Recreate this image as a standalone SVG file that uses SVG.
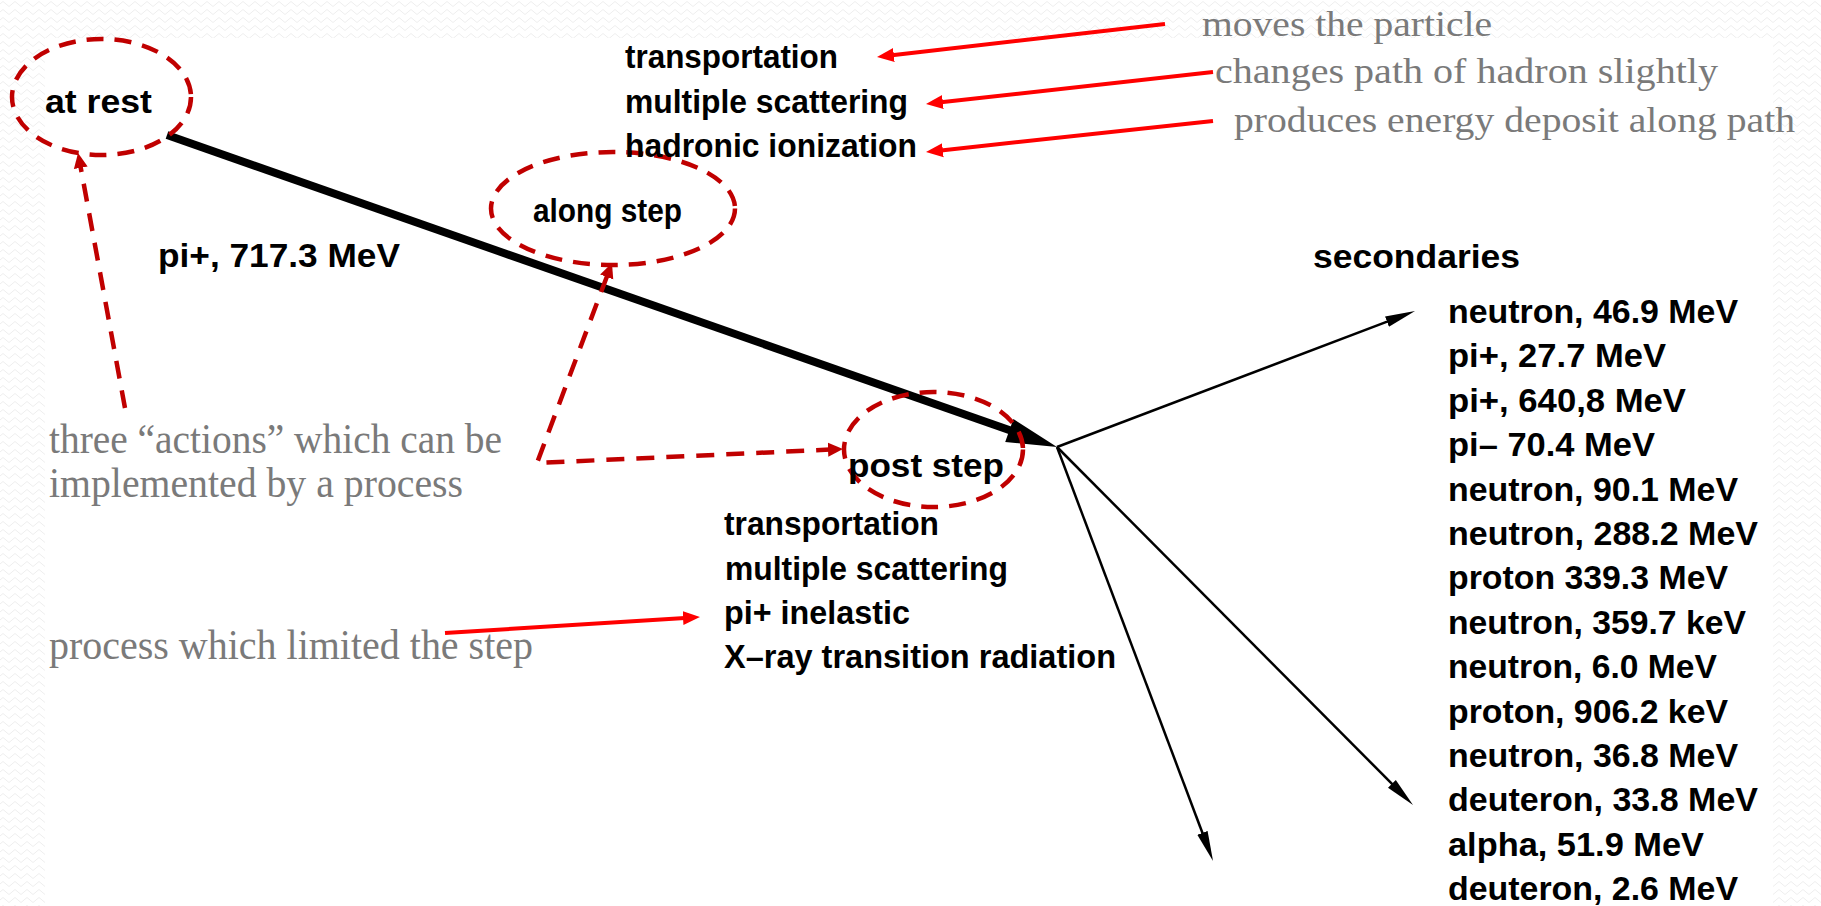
<svg xmlns="http://www.w3.org/2000/svg" width="1821" height="906" viewBox="0 0 1821 906">
  <style>
    .lbl { font-family: "Liberation Sans", Arial, sans-serif; font-weight: bold; font-size: 33px; fill: #000; }
    .note { font-family: "Liberation Serif", "Times New Roman", serif; fill: #7a7a7a; }
    .note-s { font-size: 35px; }
    .note-l { font-size: 42px; }
    .ring { fill: none; stroke: #c00000; stroke-width: 4.5; stroke-dasharray: 17 11; }
    .dash { fill: none; stroke: #c00000; stroke-width: 4.5; stroke-dasharray: 18 12; }
    .red { fill: none; stroke: #ff0000; stroke-width: 4; }
    .thin { fill: none; stroke: #000; stroke-width: 2.5; }
  </style>
  <defs>
    <pattern id="wave" width="12" height="8" patternUnits="userSpaceOnUse">
      <polyline points="0,4 3,1.5 6,4 9,6.5 12,4" fill="none" stroke="#eeeeee" stroke-width="1"/>
    </pattern>
    <marker id="headRed" markerUnits="userSpaceOnUse" markerWidth="20" markerHeight="16" viewBox="0 -8 20 16" refX="2" refY="0" orient="auto">
      <path d="M0,-7 L17,0 L0,7 z" fill="#ff0000"/>
    </marker>
    <marker id="headDark" markerUnits="userSpaceOnUse" markerWidth="18" markerHeight="16" viewBox="0 -8 18 16" refX="2" refY="0" orient="auto-start-reverse">
      <path d="M0,-7 L15,0 L0,7 z" fill="#c00000"/>
    </marker>
    <marker id="headBlack" markerUnits="userSpaceOnUse" markerWidth="32" markerHeight="14" viewBox="0 -7 32 14" refX="3" refY="0" orient="auto">
      <path d="M0,-5.5 L30,0 L0,5.5 z" fill="#000"/>
    </marker>
  </defs>

  <!-- page background -->
  <rect x="0" y="0" width="1821" height="906" fill="#fff"/>
  <rect x="0" y="0" width="1821" height="906" fill="url(#wave)"/>
  <rect x="45" y="38" width="1728" height="868" fill="#fff"/>

  <!-- connectors -->
  <g id="connectors">
    <!-- primary track -->
    <line x1="167" y1="135" x2="1012" y2="431" stroke="#000" stroke-width="8"/>
    <polygon points="1057,447 1013.4,419.1 1005.2,441.9" fill="#000"/>
    <!-- secondary tracks -->
    <line class="thin" x1="1057" y1="447" x2="1389.8" y2="320.6" marker-end="url(#headBlack)"/>
    <line class="thin" x1="1057" y1="447" x2="1394.0" y2="785.9" marker-end="url(#headBlack)"/>
    <line class="thin" x1="1057" y1="447" x2="1203.5" y2="835.7" marker-end="url(#headBlack)"/>
    <!-- process pointers -->
    <line class="red" x1="1165" y1="24" x2="891.9" y2="55.3" marker-end="url(#headRed)"/>
    <line class="red" x1="1213" y1="72" x2="940.9" y2="102.3" marker-end="url(#headRed)"/>
    <line class="red" x1="1213" y1="121" x2="940.9" y2="150.4" marker-end="url(#headRed)"/>
    <line class="red" x1="445" y1="633" x2="685.0" y2="617.9" marker-end="url(#headRed)"/>
    <!-- action pointers -->
    <line class="dash" x1="125" y1="408" x2="80.4" y2="165.8" marker-end="url(#headDark)"/>
    <polyline class="dash" points="607.4,275.2 537,463 830.0,449.6" marker-start="url(#headDark)" marker-end="url(#headDark)"/>
  </g>

  <!-- actions -->
  <g id="at-rest">
    <ellipse class="ring" cx="101.5" cy="97" rx="89.5" ry="58"/>
    <text class="lbl" x="45" y="113" textLength="107" lengthAdjust="spacingAndGlyphs">at rest</text>
  </g>
  <g id="along-step">
    <ellipse class="ring" cx="613" cy="208.5" rx="122" ry="56.5"/>
    <text class="lbl" x="533" y="222" textLength="149" lengthAdjust="spacingAndGlyphs">along step</text>
  </g>
  <g id="post-step">
    <ellipse class="ring" cx="933.5" cy="449.5" rx="89.5" ry="57.5"/>
    <text class="lbl" x="848" y="477" textLength="156" lengthAdjust="spacingAndGlyphs">post step</text>
  </g>

  <g id="primary">
    <text class="lbl" x="158" y="267" textLength="242" lengthAdjust="spacingAndGlyphs">pi+, 717.3 MeV</text>
  </g>

  <!-- along-step processes -->
  <g id="along-processes" class="lbl">
    <text x="625" y="68" textLength="213" lengthAdjust="spacingAndGlyphs">transportation</text>
    <text x="625" y="113" textLength="283" lengthAdjust="spacingAndGlyphs">multiple scattering</text>
    <text x="625" y="157" textLength="292" lengthAdjust="spacingAndGlyphs">hadronic ionization</text>
  </g>

  <!-- post-step processes -->
  <g id="post-processes" class="lbl">
    <text x="724" y="535" textLength="215" lengthAdjust="spacingAndGlyphs">transportation</text>
    <text x="725" y="580" textLength="283" lengthAdjust="spacingAndGlyphs">multiple scattering</text>
    <text x="724" y="624" textLength="186" lengthAdjust="spacingAndGlyphs">pi+ inelastic</text>
    <text x="724" y="668" textLength="392" lengthAdjust="spacingAndGlyphs">X–ray transition radiation</text>
  </g>

  <!-- secondaries -->
  <g id="secondaries" class="lbl">
    <text x="1313" y="268" textLength="207" lengthAdjust="spacingAndGlyphs">secondaries</text>
    <text x="1448" y="323" textLength="290" lengthAdjust="spacingAndGlyphs">neutron, 46.9 MeV</text>
    <text x="1448" y="367.4" textLength="218" lengthAdjust="spacingAndGlyphs">pi+, 27.7 MeV</text>
    <text x="1448" y="411.8" textLength="238" lengthAdjust="spacingAndGlyphs">pi+, 640,8 MeV</text>
    <text x="1448" y="456.2" textLength="207" lengthAdjust="spacingAndGlyphs">pi– 70.4 MeV</text>
    <text x="1448" y="500.6" textLength="290" lengthAdjust="spacingAndGlyphs">neutron, 90.1 MeV</text>
    <text x="1448" y="545" textLength="310" lengthAdjust="spacingAndGlyphs">neutron, 288.2 MeV</text>
    <text x="1448" y="589.4" textLength="280" lengthAdjust="spacingAndGlyphs">proton 339.3 MeV</text>
    <text x="1448" y="633.8" textLength="298" lengthAdjust="spacingAndGlyphs">neutron, 359.7 keV</text>
    <text x="1448" y="678.2" textLength="269" lengthAdjust="spacingAndGlyphs">neutron, 6.0 MeV</text>
    <text x="1448" y="722.6" textLength="280" lengthAdjust="spacingAndGlyphs">proton, 906.2 keV</text>
    <text x="1448" y="767" textLength="290" lengthAdjust="spacingAndGlyphs">neutron, 36.8 MeV</text>
    <text x="1448" y="811.4" textLength="310" lengthAdjust="spacingAndGlyphs">deuteron, 33.8 MeV</text>
    <text x="1448" y="855.8" textLength="256" lengthAdjust="spacingAndGlyphs">alpha, 51.9 MeV</text>
    <text x="1448" y="900.2" textLength="290" lengthAdjust="spacingAndGlyphs">deuteron, 2.6 MeV</text>
  </g>

  <!-- explanatory notes -->
  <g id="note-transport" class="note note-s">
    <text x="1202" y="36" textLength="290" lengthAdjust="spacingAndGlyphs">moves the particle</text>
  </g>
  <g id="note-scatter" class="note note-s">
    <text x="1215" y="83" textLength="503" lengthAdjust="spacingAndGlyphs">changes path of hadron slightly</text>
  </g>
  <g id="note-ionize" class="note note-s">
    <text x="1234" y="132" textLength="561" lengthAdjust="spacingAndGlyphs">produces energy deposit along path</text>
  </g>
  <g id="note-actions" class="note note-l">
    <text x="49" y="453" textLength="453" lengthAdjust="spacingAndGlyphs">three “actions” which can be</text>
    <text x="49" y="497" textLength="414" lengthAdjust="spacingAndGlyphs">implemented by a process</text>
  </g>
  <g id="note-limit" class="note note-l">
    <text x="49" y="659" textLength="484" lengthAdjust="spacingAndGlyphs">process which limited the step</text>
  </g>
</svg>
